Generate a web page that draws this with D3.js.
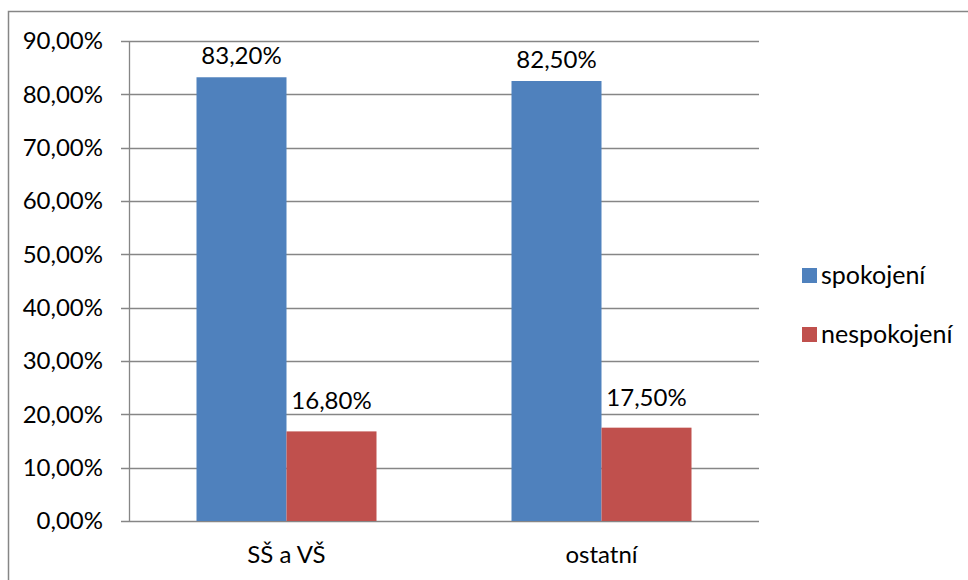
<!DOCTYPE html>
<html>
<head>
<meta charset="utf-8">
<script src="https://cdn.jsdelivr.net/npm/d3@7"></script>
<style>
  body { margin: 0; background: #fff; }
  svg text { font-family: Lato, "Open Sans", sans-serif; fill: #000; }
</style>
</head>
<body>
<svg id="chart" width="968" height="580"></svg>
<script>
// data
var categories = ["SŠ a VŠ", "ostatní"];
var seriesNames = ["spokojení", "nespokojení"];
var seriesColors = ["#4F81BD", "#C0504D"];
var spokojeni = [83.2, 82.5];
var nespokojeni = [16.8, 17.5];
var yTicks = [0, 10, 20, 30, 40, 50, 60, 70, 80, 90];

var values = [spokojeni, nespokojeni];
var labelGap = [13, 22];

var svg = d3.select("#chart");
var fmt = function(v) { return v.toFixed(2).replace(".", ",") + "%"; };

// outer frame
svg.append("rect")
	.attr("x", 8.5).attr("y", 11.5)
	.attr("width", 1000).attr("height", 600)
	.attr("fill", "none")
	.attr("stroke", "#868686")
	.attr("stroke-width", 1.5);

var plotLeft = 129, plotRight = 759, plotTop = 41, plotBottom = 521;

var y = d3.scaleLinear().domain([0, 90]).range([plotBottom, plotTop]);
var x0 = d3.scaleBand().domain(categories).range([plotLeft, plotRight]);
// excel gap width 75%: group of two bars = 180 in 315
var x1 = d3.scaleBand().domain(seriesNames)
	.range([0, x0.bandwidth()])
	.paddingOuter(67.5 / 90)
	.paddingInner(0);

var g = svg.append("g");

// gridlines
g.selectAll(".grid")
	.data(yTicks)
	.enter()
	.append("line")
	.attr("x1", plotLeft - 8).attr("x2", plotRight)
	.attr("y1", function(d) { return Math.round(y(d)) + 0.5; })
	.attr("y2", function(d) { return Math.round(y(d)) + 0.5; })
	.attr("stroke", "#868686")
	.attr("stroke-width", 1.3);

// y axis line
g.append("line")
	.attr("x1", plotLeft + 0.5).attr("x2", plotLeft + 0.5)
	.attr("y1", plotTop).attr("y2", plotBottom + 1)
	.attr("stroke", "#868686")
	.attr("stroke-width", 1.3);

// y labels
g.selectAll(".ylab")
	.data(yTicks)
	.enter()
	.append("text")
	.attr("x", 103)
	.attr("y", function(d) { return y(d); })
	.attr("dy", "0.35em")
	.attr("text-anchor", "end")
	.attr("font-size", "24px")
	.text(fmt);

// bars
var groups = g.selectAll(".cat")
	.data(categories)
	.enter()
	.append("g")
	.attr("transform", function(d) { return "translate(" + x0(d) + ",0)"; });

seriesNames.forEach(function(s, si) {
	groups.append("rect")
		.attr("x", x1(s))
		.attr("width", x1.bandwidth())
		.attr("y", function(d, i) { return y(values[si][i]); })
		.attr("height", function(d, i) { return y(0) - y(values[si][i]); })
		.attr("fill", seriesColors[si]);

	groups.append("text")
		.attr("x", x1(s) + x1.bandwidth() / 2)
		.attr("y", function(d, i) { return y(values[si][i]) - labelGap[si]; })
		.attr("text-anchor", "middle")
		.attr("font-size", "24px")
		.text(function(d, i) { return fmt(values[si][i]); });
});

// category labels
g.selectAll(".xlab")
	.data(categories)
	.enter()
	.append("text")
	.attr("x", function(d) { return x0(d) + x0.bandwidth() / 2; })
	.attr("y", 563)
	.attr("text-anchor", "middle")
	.attr("font-size", "24px")
	.text(function(d) { return d; });

// legend
var legend = svg.append("g");
seriesNames.forEach(function(s, i) {
	legend.append("rect")
		.attr("x", 802).attr("y", 268 + i * 59)
		.attr("width", 15).attr("height", 15)
		.attr("fill", seriesColors[i]);
	legend.append("text")
		.attr("x", 821).attr("y", 284 + i * 59)
		.attr("font-size", "25px")
		.text(s);
});
</script>
</body>
</html>
